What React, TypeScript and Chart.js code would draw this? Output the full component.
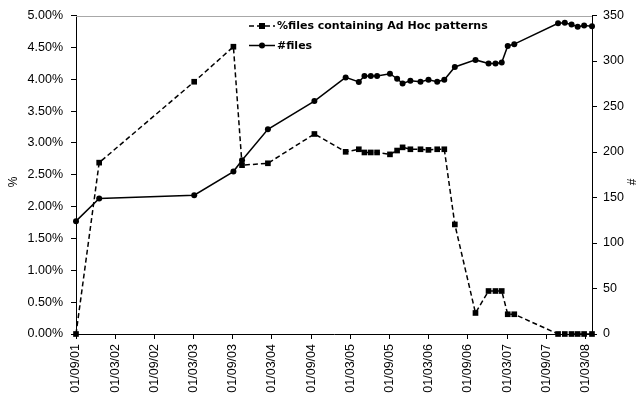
import React, { useEffect, useRef } from "react";
import { Chart, registerables } from "chart.js";

Chart.register(...registerables);

// Observation dates (x positions)
const dates = [
  "2001-09-01", "2001-12-18", "2003-03-04", "2003-09-04", "2003-10-14",
  "2004-02-12", "2004-09-16", "2005-02-09", "2005-04-10", "2005-05-06",
  "2005-06-05", "2005-07-04", "2005-09-03", "2005-10-06", "2005-11-01",
  "2005-12-07", "2006-01-24", "2006-02-28", "2006-04-10", "2006-05-13",
  "2006-07-01", "2006-10-06", "2006-12-06", "2007-01-08", "2007-02-06",
  "2007-03-04", "2007-04-04", "2007-10-26", "2007-11-26", "2007-12-28",
  "2008-01-26", "2008-02-24", "2008-04-01",
];

// % of files containing Ad Hoc patterns (left axis)
const pctAdHoc = [
  0, 2.69, 3.96, 4.51, 2.65,
  2.68, 3.14, 2.86, 2.9, 2.85,
  2.85, 2.85, 2.82, 2.88, 2.93,
  2.9, 2.9, 2.89, 2.9, 2.9,
  1.72, 0.33, 0.675, 0.675, 0.675,
  0.31, 0.31, 0, 0, 0,
  0, 0, 0,
];

// number of files (right axis)
const numFiles = [
  124, 149, 152.5, 178.5, 191,
  225, 256, 282, 277, 283.5,
  283.5, 283.5, 286, 280.5, 275.3,
  278.3, 277.2, 279.4, 277.2, 279.4,
  293.5, 301.2, 297.2, 297.2, 298.3,
  316.5, 318.5, 341.5, 342, 340,
  337.6, 339, 338.3,
];

const xTickLabels = [
  "01/09/01", "01/03/02", "01/09/02", "01/03/03", "01/09/03", "01/03/04", "01/09/04",
  "01/03/05", "01/09/05", "01/03/06", "01/09/06", "01/03/07", "01/09/07", "01/03/08",
];

const seriesLabels = ["%files containing Ad Hoc patterns", "#files"];
const axisTitles = ["%", "#"];

function toMonths(d: string): number {
  const [y, m, day] = d.split("-").map(Number);
  const dim = new Date(y, m, 0).getDate();
  return (y - 2001) * 12 + (m - 9) + (day - 1) / dim;
}

const tickFont = { family: "'Liberation Sans', Arial, sans-serif", size: 12.5 };

const overlayPlugin = {
  id: "overlay",
  afterDraw(chart: any) {
    const ctx = chart.ctx as CanvasRenderingContext2D;
    const { left, right, top } = chart.chartArea;
    ctx.save();
    // top border of plot area
    ctx.strokeStyle = "#a8a8a8";
    ctx.lineWidth = 1;
    ctx.setLineDash([]);
    ctx.beginPath();
    ctx.moveTo(left, Math.round(top) + 0.5);
    ctx.lineTo(right, Math.round(top) + 0.5);
    ctx.stroke();

    // legend
    const lx0 = 249, lx1 = 275, mx = 262;
    const rows = [26, 45.5];
    ctx.strokeStyle = "#000";
    ctx.fillStyle = "#000";
    ctx.lineWidth = 1.5;
    ctx.setLineDash([5, 3]);
    ctx.beginPath();
    ctx.moveTo(lx0, rows[0]);
    ctx.lineTo(lx1, rows[0]);
    ctx.stroke();
    ctx.setLineDash([]);
    ctx.fillRect(mx - 3, rows[0] - 3, 6, 6);
    ctx.beginPath();
    ctx.moveTo(lx0, rows[1]);
    ctx.lineTo(lx1, rows[1]);
    ctx.stroke();
    ctx.beginPath();
    ctx.arc(mx, rows[1], 3, 0, Math.PI * 2);
    ctx.fill();

    ctx.font = "bold 11px 'DejaVu Sans', sans-serif";
    ctx.textBaseline = "middle";
    ctx.textAlign = "left";
    ctx.fillText(seriesLabels[0], 277, rows[0] + 0.5);
    ctx.fillText(seriesLabels[1], 277, rows[1] + 0.5);

    // axis titles
    ctx.font = "12px 'Liberation Sans', Arial, sans-serif";
    ctx.textAlign = "center";
    ctx.save();
    ctx.translate(14, 182);
    ctx.rotate(-Math.PI / 2);
    ctx.fillText(axisTitles[0], 0, 0);
    ctx.restore();
    ctx.save();
    ctx.translate(633, 182);
    ctx.rotate(-Math.PI / 2);
    ctx.fillText(axisTitles[1], 0, 0);
    ctx.restore();

    ctx.restore();
  },
};

export default function App() {
  const ref = useRef<HTMLCanvasElement | null>(null);

  useEffect(() => {
    if (!ref.current) return;
    const xs = dates.map(toMonths);
    const chart = new Chart(ref.current, {
      type: "line",
      data: {
        datasets: [
          {
            label: seriesLabels[0],
            data: xs.map((x, i) => ({ x, y: pctAdHoc[i] })),
            yAxisID: "y",
            borderColor: "#000",
            backgroundColor: "#000",
            borderWidth: 1.5,
            borderDash: [5, 3],
            pointStyle: "rect",
            pointRadius: 4,
            pointBorderWidth: 0,
            pointBackgroundColor: "#000",
            tension: 0,
            clip: false,
          },
          {
            label: seriesLabels[1],
            data: xs.map((x, i) => ({ x, y: numFiles[i] })),
            yAxisID: "y1",
            borderColor: "#000",
            backgroundColor: "#000",
            borderWidth: 1.5,
            pointStyle: "circle",
            pointRadius: 3,
            pointBorderWidth: 0,
            pointBackgroundColor: "#000",
            tension: 0,
            clip: false,
          },
        ],
      } as any,
      options: {
        responsive: false,
        animation: false,
        devicePixelRatio: 1,
        layout: { padding: { top: 12, left: 0, right: 0, bottom: 0 } },
        plugins: { legend: { display: false }, tooltip: { enabled: false } },
        scales: {
          x: {
            type: "linear",
            min: 0,
            max: toMonths("2008-04-01"),
            afterBuildTicks: (s: any) => {
              s.ticks = xTickLabels.map((_, i) => ({ value: i * 6 }));
            },
            afterFit: (s: any) => {
              s.height = 69;
            },
            ticks: {
              autoSkip: false,
              maxRotation: 90,
              minRotation: 90,
              padding: 5,
              color: "#000",
              font: tickFont,
              callback: (v: any) => xTickLabels[Math.round(Number(v) / 6)] ?? "",
            },
            grid: { drawOnChartArea: false, color: "#000", tickLength: 5 },
            border: { color: "#000", width: 1 },
          },
          y: {
            position: "left",
            min: 0,
            max: 5,
            afterFit: (s: any) => {
              s.width = 76;
            },
            ticks: {
              stepSize: 0.5,
              padding: 8,
              color: "#000",
              font: tickFont,
              callback: (v: any) => Number(v).toFixed(2) + "%",
            },
            grid: { drawOnChartArea: false, color: "#000", tickLength: 5 },
            border: { color: "#000", width: 1 },
          },
          y1: {
            position: "right",
            min: 0,
            max: 350,
            afterFit: (s: any) => {
              s.width = 45;
            },
            ticks: {
              stepSize: 50,
              padding: 6,
              color: "#000",
              font: tickFont,
            },
            grid: { drawOnChartArea: false, color: "#000", tickLength: 5 },
            border: { color: "#000", width: 1 },
          },
        },
      } as any,
      plugins: [overlayPlugin],
    });
    return () => chart.destroy();
  }, []);

  return (
    <div style={{ position: "absolute", left: 0, top: 0, width: 637, height: 403, background: "#fff" }}>
      <canvas ref={ref} width={637} height={403} style={{ display: "block" }} />
    </div>
  );
}
